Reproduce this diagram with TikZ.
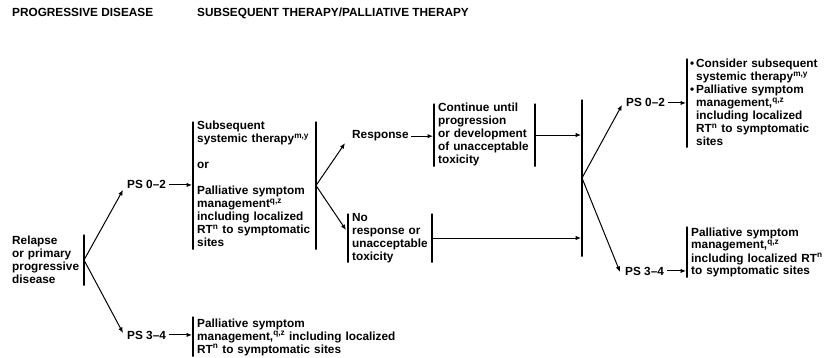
\documentclass[tikz,border=0pt]{standalone}
\usepackage{fontspec}
\setmainfont{Liberation Sans}
\usetikzlibrary{arrows.meta}
\begin{document}
\begin{tikzpicture}[x=1pt,y=-1pt,
  txt/.style={anchor=base west, inner sep=0pt, align=left, text width=#1,
    font=\fontsize{11.8}{13}\selectfont\bfseries},
  lbl/.style={anchor=base west, inner sep=0pt, font=\fontsize{11.8}{13}\selectfont\bfseries},
  bar/.style={draw, line width=1.05pt, inner sep=0pt, minimum width=0pt, minimum height=#1, anchor=north},
  arr/.style={draw, line width=1pt, -{Latex[length=5.5pt,width=4.5pt]}}]
\useasboundingbox (0,0) rectangle (824,358);

% headers
\node[lbl] (h1) at (12,17) {PROGRESSIVE DISEASE};
\node[lbl] (h2) at (197,17) {SUBSEQUENT THERAPY/PALLIATIVE THERAPY};

% relapse
\node[txt=80pt] (rel) at (12,244) {Relapse\\or primary\\progressive\\disease};
\node[bar=51pt] (b0) at (84,234) {};

% PS 0-2 branch
\node[lbl] (ps1) at (127,189) {PS 0–2};
\node[bar=128pt] (b1) at (193,121) {};
\node[txt=120pt] (t1) at (197,130) {Subsequent\\systemic therapy\textsuperscript{m,y}\\[13pt]or\\[13pt]Palliative symptom\\management\textsuperscript{q,z}\\including localized\\RT\textsuperscript{n} to symptomatic\\sites};
\node[bar=128pt] (b2) at (316,121) {};

% response
\node[lbl] (resp) at (352,139) {Response};
\node[bar=63pt] (b3) at (434,103) {};
\node[txt=100pt] (t3) at (438,112) {Continue until\\progression\\or development\\of unacceptable\\toxicity};
\node[bar=63pt] (b4) at (535,103) {};

% no response
\node[bar=49pt] (b5) at (348,213) {};
\node[txt=90pt] (t5) at (352,222) {No\\response or\\unacceptable\\toxicity};
\node[bar=49pt] (b6) at (432,213) {};

% big bar
\node[bar=157pt] (bb) at (582,99) {};

% right PS 0-2
\node[lbl] (ps3) at (626,107) {PS 0–2};
\node[bar=89pt] (b7) at (687,58) {};
\node[txt=130pt] (t7) at (696,68) {\leavevmode\llap{•\,}Consider subsequent\\systemic therapy\textsuperscript{m,y}\\\leavevmode\llap{•\,}Palliative symptom\\management,\textsuperscript{q,z}\\including localized\\RT\textsuperscript{n} to symptomatic\\sites};

% right PS 3-4
\node[lbl] (ps4) at (625,275) {PS 3–4};
\node[bar=51pt] (b8) at (687,226) {};
\node[txt=140pt] (t8) at (691,236) {Palliative symptom\\management,\textsuperscript{q,z}\\including localized RT\textsuperscript{n}\\to symptomatic sites};

% bottom PS 3-4
\node[lbl] (ps5) at (127,339) {PS 3–4};
\node[bar=40pt] (b9) at (193,316) {};
\node[txt=250pt] (t9) at (197,327) {Palliative symptom\\management,\textsuperscript{q,z} including localized\\RT\textsuperscript{n} to symptomatic sites};

% connectors
\draw[arr] (b0.center) -- ([shift={(-4,5)}]ps1.west);
\draw[arr] (b0.center) -- ([shift={(-4,-2)}]ps5.west);
\draw[arr, shorten <=3pt, shorten >=1pt] (ps1.east) -- (ps1.east -| b1.center);
\draw[arr, shorten <=3pt, shorten >=1pt] (ps5.east) -- (ps5.east -| b9.center);
\draw[arr] (b2.center) -- ([shift={(-7,7)}]resp.west);
\draw[arr] (b2.center) -- ([shift={(-2,-8)}]b5.center);
\draw[arr, shorten <=2pt, shorten >=1pt] (resp.east) -- (resp.east -| b3.center);
\draw[arr, shorten >=1pt] (b4.center) -- (b4.center -| bb.center);
\draw[arr, shorten >=1pt] (b6.center) -- (b6.center -| bb.center);
\draw[arr] (bb.center) -- ([shift={(-4,2)}]ps3.west);
\draw[arr] (bb.center) -- ([shift={(-5,1)}]ps4.west);
\draw[arr, shorten <=3pt, shorten >=1pt] (ps3.east) -- (ps3.east -| b7.center);
\draw[arr, shorten <=3pt, shorten >=1pt] (ps4.east) -- (ps4.east -| b8.center);
\end{tikzpicture}
\end{document}
